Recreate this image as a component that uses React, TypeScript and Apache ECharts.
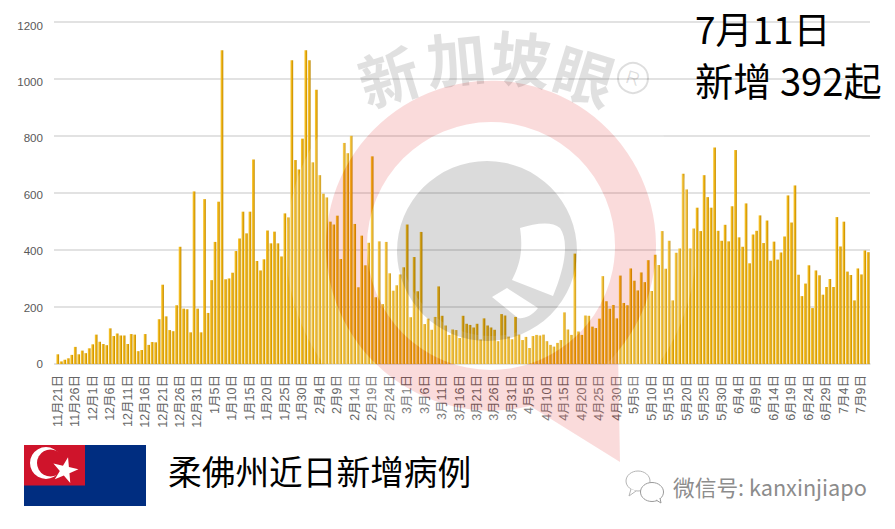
import React, { useEffect, useRef } from "react";
import * as echarts from "echarts";

const monthSpans: [number, number, number][] = [
  [11, 21, 30], [12, 1, 31], [1, 1, 31], [2, 1, 28], [3, 1, 31],
  [4, 1, 30], [5, 1, 31], [6, 1, 30], [7, 1, 11],
];
const categories: string[] = [];
monthSpans.forEach(([m, a, b]) => {
  for (let d = a; d <= b; d++) categories.push(`${m}月${d}日`);
});

const dailyCases = [
  34, 9, 15, 20, 32, 60, 34, 47, 38, 55,
  69, 103, 78, 70, 66, 125, 98, 107, 100, 100,
  70, 105, 103, 45, 49, 105, 67, 77, 76, 157,
  278, 167, 119, 115, 206, 411, 194, 192, 111, 605,
  194, 111, 578, 179, 294, 428, 569, 1100, 297, 300,
  320, 396, 440, 534, 458, 534, 717, 361, 328, 367,
  468, 423, 464, 423, 377, 528, 514, 1065, 715, 682,
  790, 1100, 1065, 707, 961, 662, 597, 584, 499, 489,
  520, 368, 775, 739, 800, 491, 269, 450, 346, 425,
  728, 234, 430, 210, 428, 318, 257, 276, 314, 339,
  489, 164, 375, 255, 463, 140, 159, 120, 165, 272,
  169, 135, 102, 121, 119, 91, 169, 141, 137, 128,
  141, 86, 160, 135, 128, 120, 80, 175, 170, 96,
  87, 165, 103, 84, 95, 56, 98, 102, 100, 103,
  80, 67, 61, 74, 84, 181, 121, 102, 387, 114,
  102, 170, 169, 131, 126, 159, 308, 220, 194, 207,
  160, 310, 214, 206, 335, 292, 258, 321, 287, 364,
  256, 383, 347, 466, 334, 432, 223, 390, 405, 667,
  612, 405, 475, 548, 466, 662, 585, 548, 759, 467,
  432, 488, 430, 553, 750, 444, 411, 563, 353, 454,
  467, 521, 424, 503, 362, 429, 366, 391, 447, 591,
  496, 626, 313, 238, 282, 346, 196, 328, 311, 243,
  270, 298, 270, 515, 412, 499, 324, 312, 223, 335, 314, 398, 392,
];

const dateLine = "7月11日";
const countLine = "新增 392起";
const titleText = "柔佛州近日新增病例";
const wechatText = "微信号: kanxinjiapo";
const watermarkChars = ["新", "加", "坡", "眼"];

const CJK = '"Noto Sans CJK SC","Noto Sans",sans-serif';
const LATIN = '"Liberation Sans","Noto Sans CJK SC",sans-serif';

const PINK = "rgba(221,0,0,0.14)";
const GREY = "rgba(0,0,0,0.14)";
const HAZE = "rgba(255,255,255,0.15)";

echarts.graphic.registerShape(
  "wmRing",
  echarts.graphic.extendPath(
    "M618 351 A165 165 0 1 0 530 406 L620 462 Z M615 246 A124 124 0 1 1 367 246 A124 124 0 1 1 615 246 Z",
    {}
  ) as any
);
echarts.graphic.registerShape(
  "wmDisc",
  echarts.graphic.extendPath(
    "M577 251 A90 90 0 1 0 397 251 A90 90 0 1 0 577 251 Z " +
      "M520 228 C536 223 552 221 560 228 C568 240 567 262 553 296 L512 280 C518 268 524 254 520 228 Z " +
      "M492 297 L507 288 L538 308 C532 316 524 319 518 318 Z",
    {}
  ) as any
);

const starPoints: number[][] = [];
for (let i = 0; i < 10; i++) {
  const rad = i % 2 === 0 ? 13.5 : 5.2;
  const a = ((-5 + i * 36) * Math.PI) / 180;
  starPoints.push([65 + rad * Math.cos(a), 470.5 + rad * Math.sin(a)]);
}

export default function App() {
  const ref = useRef<HTMLDivElement>(null);
  useEffect(() => {
    const chart = echarts.init(ref.current!, undefined, { renderer: "svg" });
    const wmText = (t: string, x: number, y: number, r: number) => ({
      type: "text", x, y, rotation: r, z: 20, silent: true,
      style: { text: t, fontSize: 60, fontFamily: CJK, fontWeight: 700, fill: "rgba(0,0,0,0.12)", align: "center", verticalAlign: "middle" },
    });
    chart.setOption({
      animation: false,
      backgroundColor: "#ffffff",
      grid: [
        { left: 56, top: 21.7, width: 814, height: 342.3 },
        { left: 56, top: 25, width: 814, height: 338.7 },
      ],
      xAxis: [
        {
          type: "category", gridIndex: 0, data: categories,
          axisLine: { lineStyle: { color: "#d9d9d9", width: 1.5 } },
          axisTick: { show: false },
          axisLabel: { interval: 4, rotate: 90, margin: 11, fontSize: 12.5, color: "#666666", fontFamily: LATIN },
        },
        { type: "category", gridIndex: 1, data: categories, show: false },
      ],
      yAxis: [
        {
          type: "value", gridIndex: 0, min: 0, max: 1200, interval: 200,
          axisLine: { show: false },
          axisTick: { show: true, length: 2, lineStyle: { color: "#d9d9d9", width: 1.5 } },
          axisLabel: { show: false },
          splitLine: { lineStyle: { color: "#d9d9d9", width: 1.5 } },
        },
        {
          type: "value", gridIndex: 1, min: 0, max: 1200, interval: 200,
          axisLine: { show: false }, axisTick: { show: false }, splitLine: { show: false },
          axisLabel: { margin: 13, fontSize: 11.6, color: "#595959", fontFamily: LATIN, formatter: (v: number) => String(v) },
        },
      ],
      series: [
        {
          type: "bar", xAxisIndex: 0, yAxisIndex: 0, data: dailyCases, barWidth: 2.7,
          itemStyle: {
            color: {
              type: "linear", x: 0, y: 0, x2: 1, y2: 0,
              colorStops: [
                { offset: 0, color: "#f8cb3a" },
                { offset: 0.5, color: "#eeb010" },
                { offset: 1, color: "#b98500" },
              ],
            },
          },
        },
      ],
      graphic: [
        { type: "ring", z: 19, silent: true, shape: { cx: 491, cy: 246, r: 205, r0: 165 }, style: { fill: HAZE } },
        { type: "ring", z: 19, silent: true, shape: { cx: 491, cy: 246, r: 124, r0: 90 }, style: { fill: HAZE } },
        { type: "wmRing", x: 0, y: 0, z: 20, silent: true, style: { fill: PINK } },
        { type: "wmDisc", x: 0, y: 0, z: 20, silent: true, style: { fill: GREY } },
        wmText(watermarkChars[0], 388, 74, 0.3),
        wmText(watermarkChars[1], 456, 56, 0.1),
        wmText(watermarkChars[2], 521, 56, -0.1),
        wmText(watermarkChars[3], 585, 73, -0.3),
        { type: "circle", z: 20, silent: true, shape: { cx: 633, cy: 78, r: 15 }, style: { fill: "none", stroke: "rgba(0,0,0,0.13)", lineWidth: 2 } },
        { type: "text", x: 633, y: 78, rotation: -0.3, z: 20, silent: true, style: { text: "R", fontSize: 19, fontFamily: LATIN, fill: "rgba(0,0,0,0.13)", align: "center", verticalAlign: "middle" } },
        { type: "text", left: 695, top: 9, z: 30, style: { text: dateLine, fontSize: 37, fontFamily: CJK, fill: "#000" } },
        { type: "text", left: 695, top: 60, z: 30, style: { text: countLine, fontSize: 38.2, fontFamily: CJK, fill: "#000" } },
        // flag
        { type: "rect", z: 30, shape: { x: 24, y: 445, width: 122, height: 61 }, style: { fill: "#002d80" } },
        { type: "rect", z: 31, shape: { x: 24, y: 445, width: 61, height: 40.5 }, style: { fill: "#cf142b" } },
        { type: "circle", z: 32, shape: { cx: 46, cy: 463, r: 16 }, style: { fill: "#ffffff" } },
        { type: "circle", z: 33, shape: { cx: 50.5, cy: 463, r: 13.5 }, style: { fill: "#cf142b" } },
        { type: "polygon", z: 34, shape: { points: starPoints }, style: { fill: "#ffffff" } },
        { type: "text", left: 168, top: 454, z: 30, style: { text: titleText, fontSize: 33.7, fontFamily: CJK, fill: "#000" } },
        // wechat
        { type: "ellipse", z: 30, shape: { cx: 638, cy: 481, rx: 12, ry: 10 }, style: { fill: "#fff", stroke: "#b5b5b5", lineWidth: 1 } },
        { type: "polyline", z: 30, shape: { points: [[631, 489], [629, 496], [636, 491]] }, style: { fill: "#fff", stroke: "#b5b5b5", lineWidth: 1 } },
        { type: "ellipse", z: 31, shape: { cx: 652, cy: 492, rx: 11.5, ry: 9.5 }, style: { fill: "#fff", stroke: "#9a9a9a", lineWidth: 1 } },
        { type: "polyline", z: 31, shape: { points: [[656, 500], [661, 503], [660, 498]] }, style: { fill: "#fff", stroke: "#9a9a9a", lineWidth: 1 } },
        { type: "text", left: 673, top: 476, z: 30, style: { text: wechatText, fontSize: 21.7, fontFamily: CJK, fill: "#8c8c8c" } },
      ],
    } as any);
    return () => chart.dispose();
  }, []);
  return <div ref={ref} style={{ position: "fixed", left: 0, top: 0, width: 895, height: 529 }} />;
}
